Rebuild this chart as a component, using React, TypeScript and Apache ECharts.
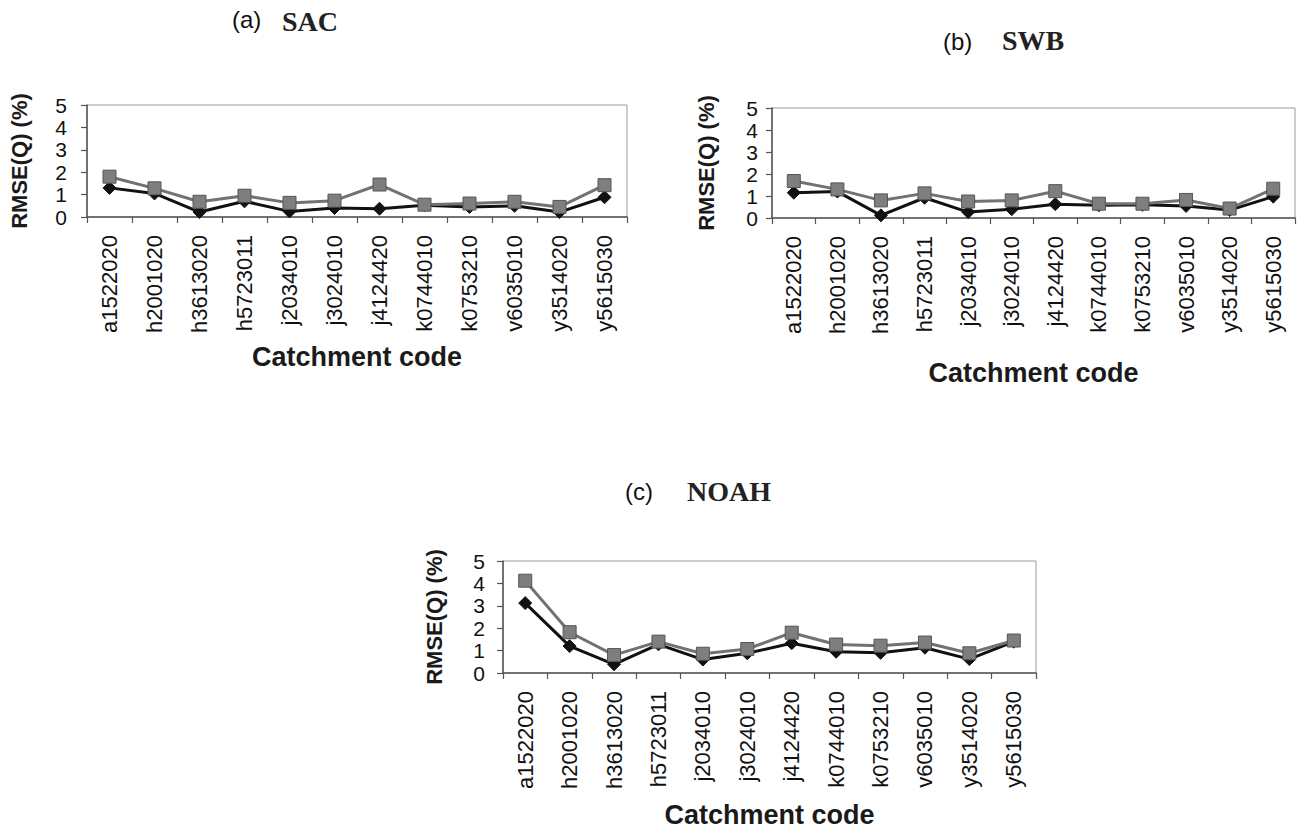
import React, { useEffect, useRef } from "react";
import * as echarts from "echarts";

const categories = [
  "a1522020", "h2001020", "h3613020", "h5723011", "j2034010", "j3024010",
  "j4124420", "k0744010", "k0753210", "v6035010", "y3514020", "y5615030",
];

const sacDiamond = [1.3, 1.05, 0.22, 0.7, 0.25, 0.4, 0.37, 0.52, 0.45, 0.5, 0.22, 0.88];
const sacSquare = [1.8, 1.28, 0.68, 0.95, 0.63, 0.73, 1.45, 0.55, 0.6, 0.68, 0.45, 1.42];

const swbDiamond = [1.15, 1.2, 0.12, 0.92, 0.27, 0.4, 0.63, 0.58, 0.6, 0.55, 0.36, 0.97];
const swbSquare = [1.68, 1.3, 0.8, 1.12, 0.75, 0.8, 1.22, 0.65, 0.65, 0.82, 0.43, 1.33];

const noahDiamond = [3.12, 1.2, 0.39, 1.28, 0.6, 0.88, 1.33, 0.95, 0.9, 1.13, 0.62, 1.4];
const noahSquare = [4.12, 1.82, 0.8, 1.4, 0.86, 1.07, 1.8, 1.27, 1.22, 1.36, 0.88, 1.45];

const yTicks = [0, 1, 2, 3, 4, 5];

const SANS = "'Liberation Sans', Arial, Helvetica, sans-serif";
const SERIF = "'Liberation Serif', 'Times New Roman', serif";

const panels = [
  { label: "(a)", name: "SAC", diamond: sacDiamond, square: sacSquare,
    grid: { left: 87, top: 105, width: 540, height: 112 }, yLabelMargin: 20, yNameGap: 57, xNameGap: 126,
    lab: { x: 232, y: 20 }, ttl: { x: 282, y: 22 } },
  { label: "(b)", name: "SWB", diamond: swbDiamond, square: swbSquare,
    grid: { left: 772, top: 108, width: 523, height: 110 }, yLabelMargin: 14, yNameGap: 55, xNameGap: 141,
    lab: { x: 943, y: 42 }, ttl: { x: 1002, y: 41 } },
  { label: "(c)", name: "NOAH", diamond: noahDiamond, square: noahSquare,
    grid: { left: 503, top: 561, width: 533, height: 112 }, yLabelMargin: 18, yNameGap: 58, xNameGap: 128,
    lab: { x: 625, y: 492 }, ttl: { x: 687, y: 492 } },
];

export default function App() {
  const ref = useRef<HTMLDivElement>(null);
  useEffect(() => {
    if (!ref.current) return;
    const chart = echarts.init(ref.current, null, { renderer: "svg" });
    const grid: any[] = [];
    const xAxis: any[] = [];
    const yAxis: any[] = [];
    const series: any[] = [];
    const graphic: any[] = [];
    panels.forEach((p, i) => {
      grid.push({ ...p.grid, show: true, borderColor: "#9a9a9a", borderWidth: 1, backgroundColor: "transparent" });
      xAxis.push({
        type: "category", gridIndex: i, data: categories, boundaryGap: true,
        name: "Catchment code", nameLocation: "middle", nameGap: p.xNameGap,
        nameTextStyle: { fontFamily: SANS, fontWeight: "bold", fontSize: 27, color: "#1a1a1a" },
        axisLine: { lineStyle: { color: "#555", width: 1.5 } },
        axisTick: { show: true, length: 6, lineStyle: { color: "#555", width: 1.2 } },
        axisLabel: { rotate: 90, fontFamily: SANS, fontSize: 22, color: "#111", margin: 18, interval: 0 },
      });
      yAxis.push({
        type: "value", gridIndex: i, min: 0, max: 5, interval: 1,
        name: "RMSE(Q) (%)", nameLocation: "middle", nameGap: p.yNameGap,
        nameTextStyle: { fontFamily: SANS, fontWeight: "bold", fontSize: 22, color: "#1a1a1a" },
        axisLine: { show: true, lineStyle: { color: "#555", width: 1.5 } },
        axisTick: { show: true, length: 6, lineStyle: { color: "#555", width: 1.2 } },
        splitLine: { show: false },
        axisLabel: { fontFamily: SANS, fontSize: 21, lineHeight: 19, color: "#111", margin: p.yLabelMargin,
          formatter: (v: number) => (yTicks.includes(v) ? String(v) : "") },
      });
      series.push({
        type: "line", xAxisIndex: i, yAxisIndex: i, data: p.diamond,
        symbol: "diamond", symbolSize: 13,
        lineStyle: { color: "#111", width: 3 },
        itemStyle: { color: "#111", borderColor: "#111" },
      });
      series.push({
        type: "line", xAxisIndex: i, yAxisIndex: i, data: p.square,
        symbol: "rect", symbolSize: 13,
        lineStyle: { color: "#727272", width: 3 },
        itemStyle: { color: "#7e7e7e", borderColor: "#555", borderWidth: 1 },
      });
      graphic.push({
        type: "text", left: p.lab.x, top: p.lab.y - 13,
        style: { text: p.label, font: `24px ${SANS}`, fill: "#111" },
      });
      graphic.push({
        type: "text", left: p.ttl.x, top: p.ttl.y - 15,
        style: { text: p.name, font: `bold 28px ${SERIF}`, fill: "#222" },
      });
    });
    chart.setOption({
      animation: false,
      backgroundColor: "#fff",
      grid, xAxis, yAxis, series, graphic,
    });
    return () => chart.dispose();
  }, []);
  return <div ref={ref} style={{ position: "fixed", left: 0, top: 0, width: 1298, height: 830 }} />;
}
